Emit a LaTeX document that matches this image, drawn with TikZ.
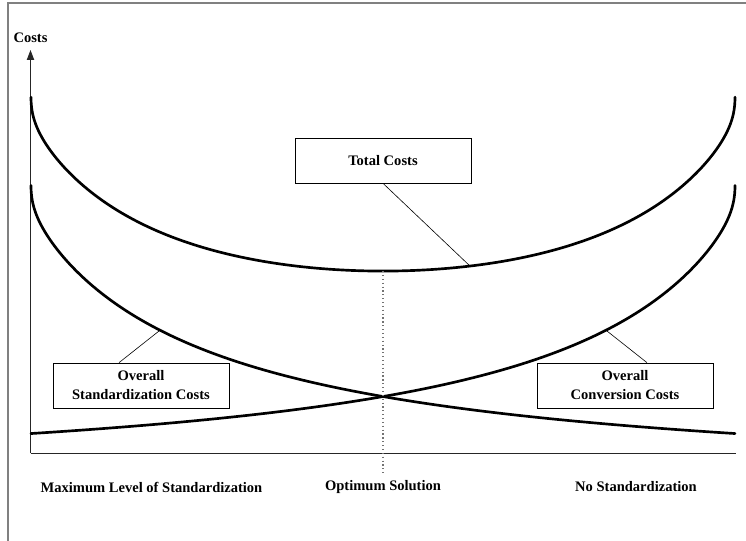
\documentclass[tikz,border=0pt]{standalone}
\usepackage{fontspec}
\setmainfont{Liberation Serif}
\usetikzlibrary{arrows.meta,calc}

\tikzset{
	costbox/.style={draw, line width=0.5pt, fill=white, align=center, minimum width=132pt, minimum height=33.75pt, inner sep=0pt},
	costcurve/.style={line width=2pt, line cap=round},
	leader/.style={line width=0.45pt},
	axislabel/.style={font=\fontsize{10.9}{14.25}\selectfont\bfseries},
	declare function={stdh(\u)=505.04/((\u+187.3)/100)-37.2+35*exp(-sqrt(\u)/2.4);
		convh(\u)=stdh(704-\u);
		toth(\u)=stdh(\u)+convh(\u)+69;}
}

\begin{document}
\begin{tikzpicture}[x=0.75pt, y=-0.75pt, font=\fontsize{10.9}{14.25}\selectfont\bfseries]
				\useasboundingbox (0,0) rectangle (746,541);
				% frame
				\draw[black!50, line width=0.9pt] (8,545)--(8,3)--(750,3);

				% axes
				\coordinate (origin) at (30.5,453);
				\coordinate (ytop) at (30.5,50);
				\coordinate (xend) at (735.5,453);
				\draw[black!85, line width=0.7pt] (origin)--(xend);
				\draw[black!85, line width=0.7pt, -{Triangle[length=7.5pt,width=5.5pt]}] (origin)--(ytop);
				\node[axislabel] (costs) at (30.5,37.5){Costs};

				% curves, u runs from 0 to 704 along the x axis
				\draw[costcurve] plot[domain=0:180, samples=181, variable=\a] ({31+352-352*cos(\a)}, {453-toth(352-352*cos(\a))});
				\draw[costcurve] plot[domain=0:180, samples=181, variable=\a] ({31+352-352*cos(\a)}, {453-stdh(352-352*cos(\a))});
				\draw[costcurve] plot[domain=0:180, samples=181, variable=\a] ({31+352-352*cos(\a)}, {453-convh(352-352*cos(\a))});

				\coordinate (tcmin) at (383,{453-toth(352)});
				\coordinate (tcpt) at (470,{453-toth(439)});
				\coordinate (scpt) at (160,{453-stdh(129)});
				\coordinate (ccpt) at (606,{453-convh(575)});

				\node[costbox] (tcbox) at (383,160.5){Total Costs};
				\node[costbox] (scbox) at (141,385.5){Overall\\Standardization Costs};
				\node[costbox] (ccbox) at (625,385.5){Overall\\Conversion Costs};

				\draw[leader] (tcbox.south)--(tcpt);
				\draw[leader] ($(scbox.north)+(-22,0)$)--(scpt);
				\draw[leader] ($(ccbox.north)+(22,0)$)--(ccpt);

				\node (maxlabel) at (151.5,487){Maximum Level of Standardization};
				\node (optlabel) at (383,487){Optimum Solution};
				\node (nolabel) at (636,487){No Standardization};

				\draw[black!55, line width=0.9pt, dotted] (tcmin)--(optlabel.north);
			\end{tikzpicture}
\end{document}
